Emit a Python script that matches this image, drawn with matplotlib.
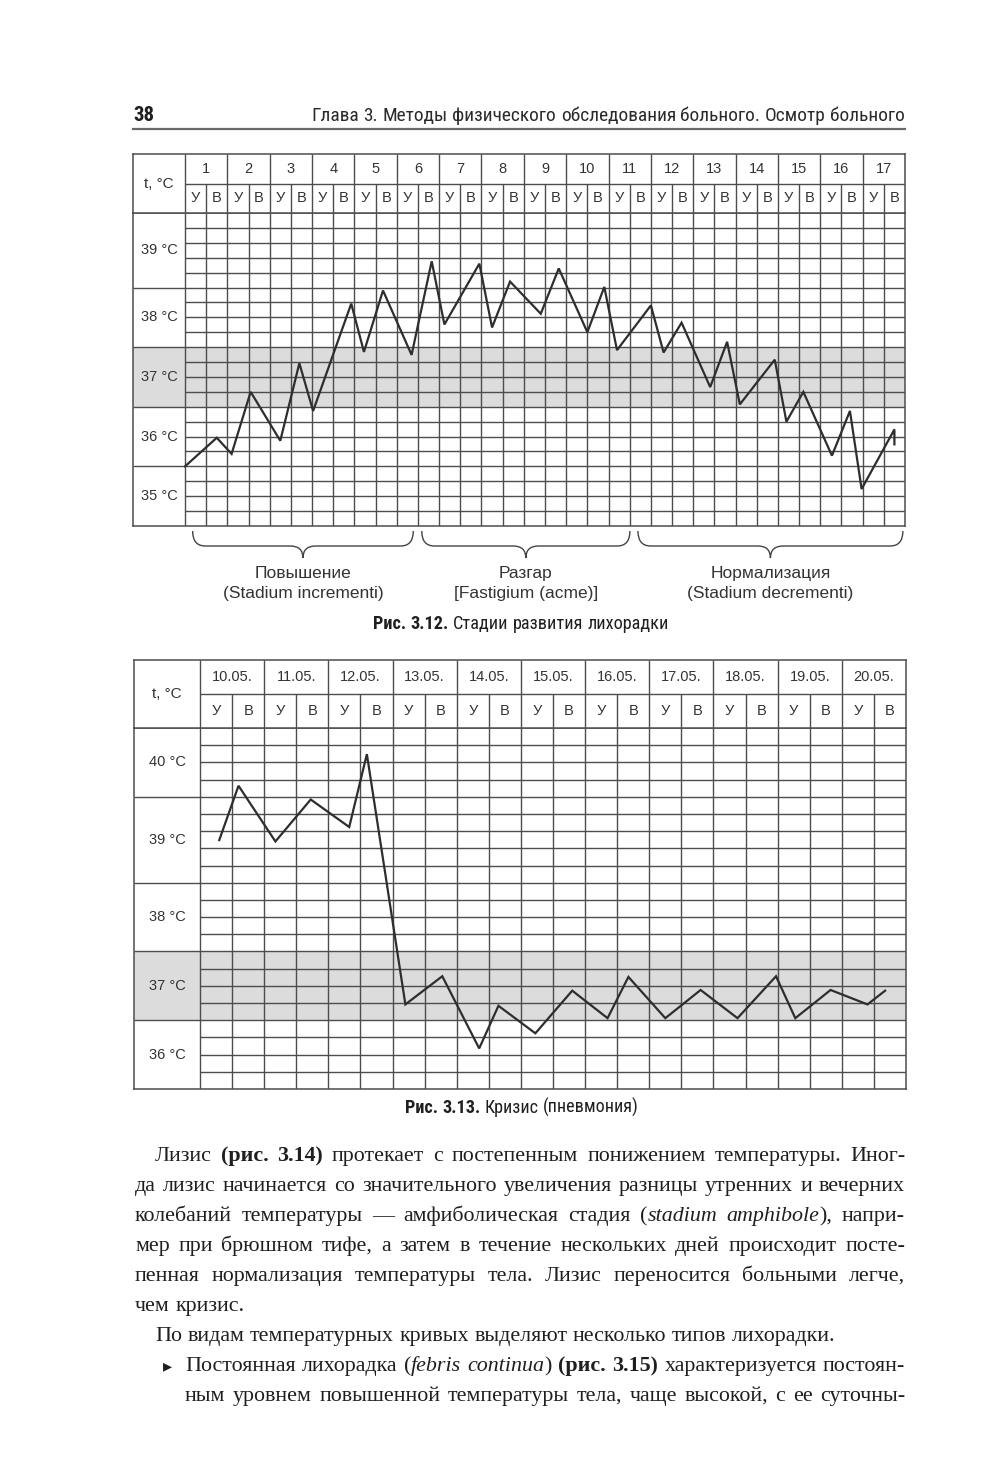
import numpy as np
import matplotlib
matplotlib.use("Agg")
import matplotlib.pyplot as plt
from matplotlib import font_manager
from matplotlib.path import Path
from matplotlib.patches import PathPatch

W, H = 1000, 1479
INK = "#1f1f1f"
CHART_INK = "#333333"
GRID = "#4d4d4d"
SHADE = "#dcdcdc"
LINE = "#2e2e2e"

# ---- fig 3.12: stages of fever, 17 days, morning (У) / evening (В)
top_days = [str(d) for d in range(1, 18)]
# x in half-day columns from the left edge of the grid, t in °C
top_x = [0.0, 1.5, 2.2, 3.1, 4.5, 5.4, 6.05, 7.85, 8.45, 9.35, 10.7, 11.65,
         12.25, 13.9, 14.5, 15.35, 16.8, 17.65, 19.0, 19.8, 20.4, 22.0, 22.6,
         23.45, 24.8, 25.6, 26.2, 27.85, 28.4, 29.2, 30.55, 31.4, 31.95, 33.5, 33.5]
top_t = [35.5, 35.98, 35.71, 36.75, 35.93, 37.23, 36.43, 38.23, 37.42, 38.45,
         37.37, 38.94, 37.88, 38.9, 37.83, 38.6, 38.06, 38.82, 37.75, 38.51,
         37.45, 38.2, 37.41, 37.91, 36.83, 37.59, 36.54, 37.29, 36.25, 36.75,
         35.68, 36.43, 35.12, 36.12, 35.87]
top_labels = ["35 °C", "36 °C", "37 °C", "38 °C", "39 °C"]
top_edges = [34.5, 35.5, 36.5, 37.5, 38.5, 39.75]
stage_names = ["Повышение", "Разгар", "Нормализация"]
stage_latin = ["(Stadium incrementi)", "[Fastigium (acme)]", "(Stadium decrementi)"]
stage_from = [0.36, 11.18, 21.39]
stage_to = [10.78, 21.01, 33.9]

# ---- fig 3.13: crisis (pneumonia)
bot_dates = ["10.05.", "11.05.", "12.05.", "13.05.", "14.05.", "15.05.",
             "16.05.", "17.05.", "18.05.", "19.05.", "20.05."]
bot_x = [0.6, 1.2, 2.35, 3.45, 4.65, 5.2, 6.4, 7.55, 8.7, 9.3, 10.45, 11.6,
         12.7, 13.35, 14.5, 15.6, 16.75, 17.95, 18.55, 19.65, 20.8, 21.35]
bot_t = [39.12, 39.91, 39.1, 39.71, 39.31, 40.37, 36.73, 37.14, 36.09, 36.71,
         36.31, 36.93, 36.53, 37.13, 36.53, 36.94, 36.53, 37.14, 36.53, 36.94,
         36.73, 36.93]
bot_labels = ["36 °C", "37 °C", "38 °C", "39 °C", "40 °C"]
bot_edges = [35.5, 36.5, 37.5, 38.5, 39.75, 40.75]

NORMAL_BAND = (36.5, 37.5)

# ---- page text
page_no = "38"
page_title = "Глава 3. Методы физического обследования больного. Осмотр больного"
cap_312 = [("Рис. 3.12.", "B"), (" Стадии развития лихорадки", "N")]
cap_313 = [("Рис. 3.13.", "B"), (" Кризис (пневмония)", "N")]
body_lines = [
    (155, True, [("Лизис ", "n"), ("(рис. 3.14)", "b"),
                 (" протекает с постепенным понижением температуры. Иног-", "n")]),
    (135, True, [("да лизис начинается со значительного увеличения разницы утренних и вечерних", "n")]),
    (135, True, [("колебаний температуры — амфиболическая стадия (", "n"),
                 ("stadium amphibole", "i"), ("), напри-", "n")]),
    (135, True, [("мер при брюшном тифе, а затем в течение нескольких дней происходит посте-", "n")]),
    (135, True, [("пенная нормализация температуры тела. Лизис переносится больными легче,", "n")]),
    (135, False, [("чем кризис.", "n")]),
    (155, False, [("По видам температурных кривых выделяют несколько типов лихорадки.", "n")]),
    (185, True, [("Постоянная лихорадка (", "n"), ("febris continua", "i"), (") ", "n"),
                 ("(рис. 3.15)", "b"), (" характеризуется постоян-", "n")]),
    (185, True, [("ным уровнем повышенной температуры тела, чаще высокой, с ее суточны-", "n")]),
]

# ---- fonts
fm = font_manager.fontManager
have = {f.name for f in fm.ttflist}
SANS = "Liberation Sans" if "Liberation Sans" in have else "DejaVu Sans"
SERIF = "Liberation Serif" if "Liberation Serif" in have else "DejaVu Serif"
NARROW, NSTRETCH = SANS, "normal"
for cand in ["Liberation Sans Narrow", "Roboto Condensed", "DejaVu Sans", "Open Sans", "Noto Sans"]:
    hits = [f for f in fm.ttflist if f.name == cand and "condensed" in str(f.stretch)]
    if hits:
        NARROW, NSTRETCH = cand, hits[0].stretch
        break
if NARROW == SANS and "Liberation Sans Narrow" in have:
    NARROW = "Liberation Sans Narrow"

STY = {
    "n": dict(family=SERIF),
    "b": dict(family=SERIF, weight="bold"),
    "i": dict(family=SERIF, style="italic"),
    "N": dict(family=NARROW, stretch=NSTRETCH),
    "B": dict(family=NARROW, stretch=NSTRETCH, weight="bold"),
}
CHART_FS = 10.5

fig = plt.figure(figsize=(W / 100, H / 100), dpi=100)
fig.patch.set_facecolor("white")
ov = fig.add_axes([0, 0, 1, 1])
ov.set_xlim(0, W)
ov.set_ylim(H, 0)
ov.set_axis_off()
rend = fig.canvas.get_renderer()


def width_of(s, size, st):
    t = ov.text(0, 0, s, fontsize=size, **STY[st])
    w = t.get_window_extent(rend).width
    t.remove()
    return w


def space_w(size, st):
    return width_of("н н", size, st) - width_of("нн", size, st)


def words_of(segments):
    words = [[]]
    for txt, st in segments:
        for i, p in enumerate(txt.split(" ")):
            if i > 0:
                words.append([])
            if p:
                words[-1].append((p, st))
    return [w for w in words if w]


def measured(words, size):
    return [[(s, st, width_of(s, size, st)) for s, st in w] for w in words]


def natural(words, size, st):
    ws = measured(words, size)
    return sum(r[2] for w in ws for r in w) + (len(ws) - 1) * space_w(size, st)


def draw_words(ws, x, y, size, gap, color=INK):
    for w in ws:
        for s, st, wd in w:
            ov.text(x, y, s, fontsize=size, va="baseline", ha="left", color=color, **STY[st])
            x += wd
        x += gap


def fitted_line(segments, target, ref, st):
    words = words_of(segments)
    size = ref * target / natural(words, ref, st)
    ws = measured(words, size)
    return ws, size, space_w(size, st)


def px_axes(x0, y0, x1, y1):
    return fig.add_axes([x0 / W, 1 - y1 / H, (x1 - x0) / W, (y1 - y0) / H])


def draw_chart(geo, ncol, edges, labels, heads, xs, ts):
    L, LR, R, T, HB, B = geo
    lab_w = (LR - L) / ((R - LR) / ncol)
    ylo, yhi = edges[0], edges[-1]
    body = px_axes(L, HB, R, B)
    head = px_axes(L, T, R, HB)
    for ax in (body, head):
        ax.set_xticks([])
        ax.set_yticks([])
        ax.set_xlim(-lab_w, ncol)
        for sp in ax.spines.values():
            sp.set_color(GRID)
            sp.set_linewidth(1.1)
    body.set_ylim(ylo, yhi)
    body.axhspan(*NORMAL_BAND, color=SHADE, lw=0, zorder=0)
    levels = np.arange(ylo + 0.25, yhi - 0.01, 0.25)
    body.hlines(levels, 0, ncol, color=GRID, lw=1.0, zorder=1)
    body.vlines(np.arange(0, ncol), ylo, yhi, color=GRID, lw=1.0, zorder=1)
    body.hlines(edges[1:-1], -lab_w, 0, color=GRID, lw=1.0, zorder=1)
    for lab, a, b in zip(labels, edges[:-1], edges[1:]):
        body.text(-lab_w / 2, (a + b) / 2, lab, ha="center", va="center",
                  fontsize=CHART_FS, family=SANS, color=CHART_INK)
    body.plot(xs, ts, color=LINE, lw=1.6, zorder=5, solid_joinstyle="miter")

    head.set_ylim(0, 2)
    head.vlines([0] + list(range(2, ncol, 2)), 0, 2, color=GRID, lw=1.0)
    head.vlines(list(range(1, ncol, 2)), 0, 1, color=GRID, lw=1.0)
    head.hlines(1, 0, ncol, color=GRID, lw=1.0)
    for i, d in enumerate(heads):
        head.text(2 * i + 1, 1.5, d, ha="center", va="center", fontsize=CHART_FS,
                  family=SANS, color=CHART_INK)
    for k in range(ncol):
        head.text(k + 0.5, 0.5, "УВ"[k % 2], ha="center", va="center",
                  fontsize=CHART_FS, family=SANS, color=CHART_INK)
    head.text(-lab_w / 2, 1, "t, °C", ha="center", va="center", fontsize=CHART_FS + 0.5,
              family=SANS, color=CHART_INK)
    return lab_w


def brace(ax, a, b, top, flat, tip, r):
    m = (a + b) / 2
    verts = [(a, top), (a, flat), (a + r, flat), (m - r, flat), (m, flat), (m, tip),
             (m, flat), (m + r, flat), (b - r, flat), (b, flat), (b, top)]
    codes = [Path.MOVETO, Path.CURVE3, Path.CURVE3, Path.LINETO, Path.CURVE3, Path.CURVE3,
             Path.CURVE3, Path.CURVE3, Path.LINETO, Path.CURVE3, Path.CURVE3]
    ax.add_patch(PathPatch(Path(verts, codes), fill=False, ec="#444444", lw=1.0))


# ---- page header
ov.text(133, 121, page_no, fontsize=15, va="baseline", ha="left", color=INK, **STY["B"])
ws, size, gap = fitted_line([(page_title, "N")], 594, 14, "N")
total = sum(r[2] for w in ws for r in w) + gap * (len(ws) - 1)
draw_words(ws, 905 - total, 121, size, gap, color="#2a2a2a")
ov.plot([133, 905], [129, 129], color="#6a6a6a", lw=1.6)

# ---- fig 3.12
top_n = 2 * len(top_days)
lab_w = draw_chart((133, 185, 905, 154, 213, 526), top_n, top_edges, top_labels,
                   top_days, top_x, top_t)
axb = px_axes(133, 531, 905, 605)
axb.set_xlim(-lab_w, top_n)
axb.set_ylim(74, 0)
axb.set_axis_off()
for name, lat, a, b in zip(stage_names, stage_latin, stage_from, stage_to):
    brace(axb, a, b, 0, 15, 27, 0.6)
    axb.text((a + b) / 2, 43, name, ha="center", va="center", fontsize=12.5,
             family=SANS, color=CHART_INK)
    axb.text((a + b) / 2, 63, lat, ha="center", va="center", fontsize=12.5,
             family=SANS, color=CHART_INK)

ws, size, gap = fitted_line(cap_312, 294, 12, "N")
draw_words(ws, 520 - 147, 629, size, gap)

# ---- fig 3.13
draw_chart((134, 200, 906, 660, 728, 1089), 2 * len(bot_dates), bot_edges,
           bot_labels, bot_dates, bot_x, bot_t)
ws, size, gap = fitted_line(cap_313, 232, 12, "N")
draw_words(ws, 521 - 116, 1113, size, gap)

# ---- body text (justified)
BODY_RIGHT, BODY_TOP, BODY_STEP = 905, 1161, 30
parsed = [(x, just, words_of(segs)) for x, just, segs in body_lines]
ref = 17.0
fs = ref
for x, just, words in parsed:
    if just:
        fs = min(fs, ref * (BODY_RIGHT - x) / natural(words, ref, "n") * 0.995)
sp = space_w(fs, "n")
for i, (x, just, words) in enumerate(parsed):
    ws = measured(words, fs)
    tot = sum(r[2] for w in ws for r in w)
    gap = (BODY_RIGHT - x - tot) / (len(ws) - 1) if just and len(ws) > 1 else sp
    draw_words(ws, x, BODY_TOP + i * BODY_STEP, fs, gap)
ov.text(163, BODY_TOP + 7 * BODY_STEP, "▸", fontsize=13, family="DejaVu Sans",
        va="baseline", ha="left", color=INK)

fig.savefig("out.png", dpi=100, facecolor="white")
